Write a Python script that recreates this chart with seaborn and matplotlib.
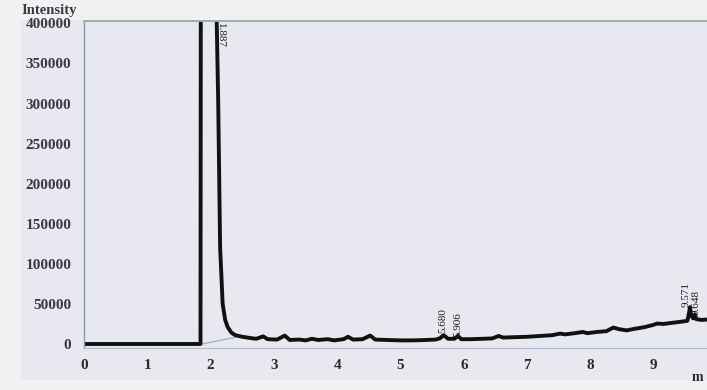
import matplotlib
matplotlib.use("Agg")
import matplotlib.pyplot as plt
from matplotlib.patches import Rectangle
from matplotlib.ticker import MultipleLocator
import numpy as np
import pandas as pd
import seaborn as sns

# Retention time (min) and detector intensity of the chromatogram trace
rt = [0.0, 1.84, 1.845, 1.887, 2.09, 2.12, 2.15, 2.19, 2.23, 2.27, 2.33, 2.39,
      2.50, 2.62, 2.72, 2.83, 2.90, 3.05, 3.17, 3.25, 3.40, 3.50, 3.60, 3.70,
      3.85, 3.95, 4.10, 4.17, 4.25, 4.40, 4.52, 4.60, 4.80, 5.00, 5.20, 5.40,
      5.55, 5.62, 5.68, 5.75, 5.85, 5.906, 5.96, 6.10, 6.30, 6.45, 6.55, 6.62,
      6.80, 7.00, 7.20, 7.40, 7.52, 7.60, 7.75, 7.88, 7.95, 8.10, 8.25, 8.36,
      8.45, 8.57, 8.70, 8.85, 9.00, 9.05, 9.15, 9.30, 9.45, 9.53, 9.555, 9.571,
      9.59, 9.62, 9.648, 9.67, 9.75, 9.84]
intensity = [0, 0, 430000, 900000, 430000, 300000, 120000, 50000, 30000, 21000, 14000, 11000,
             9000, 7500, 6500, 9500, 6000, 5500, 10500, 5000, 5500, 4500, 6500, 5000,
             6000, 4500, 6000, 9000, 5500, 6000, 10500, 5500, 5000, 4500, 4500, 5000,
             5500, 7000, 11000, 6500, 6500, 10000, 6000, 6000, 6500, 7000, 10000, 8000,
             8500, 9000, 10000, 11000, 13000, 12000, 13500, 15000, 13500, 15000, 16000, 20500,
             18500, 17000, 19000, 21000, 24000, 25500, 25000, 26500, 28000, 29000, 38000, 46000,
             36000, 32000, 37000, 31000, 30000, 30500]

# Integration baseline drawn under the main peak tail
base_rt = [1.87, 2.40]
base_int = [0, 8500]

# Peak annotations: label, x, y, rotation
peak_labels = ["1.887", "5.680", "5.906", "9.571", "9.648"]
peak_x = [2.15, 5.67, 5.91, 9.51, 9.665]
peak_y = [400000, 13500, 9000, 46000, 36000]
peak_rot = [-90, 90, 90, 90, 90]

y_ticks = [0, 50000, 100000, 150000, 200000, 250000, 300000, 350000, 400000]
x_ticks = [0, 1, 2, 3, 4, 5, 6, 7, 8, 9]

sns.set_style("white")
serif = ["Liberation Serif", "DejaVu Serif"]
plt.rcParams["font.family"] = serif

fig = plt.figure(figsize=(7.07, 3.90), dpi=100)
fig.patch.set_facecolor("#f1f1f4")
fig.patches.append(Rectangle((0.03, 0.025), 0.97, 0.925, transform=fig.transFigure,
                             facecolor="#e7e8f0", edgecolor="none", zorder=-10))

ax = fig.add_axes([84 / 707, 1 - 348 / 390, 1 - 84 / 707, 327 / 390])
ax.set_facecolor("#e7e8f0")

df = pd.DataFrame({"rt": rt, "intensity": intensity})
sns.lineplot(data=df, x="rt", y="intensity", sort=False, estimator=None,
             color="#111111", linewidth=2.8, ax=ax)
ax.plot(base_rt, base_int, color="#a9aab0", linewidth=0.9, zorder=1)

ax.set_xlim(0, 9.84)
ax.set_ylim(-5000, 403000)
ax.set_xlabel("")
ax.set_ylabel("")

ax.set_yticks(y_ticks)
ax.set_yticklabels([str(v) for v in y_ticks])
ax.yaxis.set_minor_locator(MultipleLocator(10000))
ax.set_xticks(x_ticks)
ax.xaxis.set_minor_locator(MultipleLocator(0.1))

tick_col = "#8e9ab0"
ax.tick_params(axis="y", which="major", direction="out", length=8, width=1.0,
               color="#c59a9e", pad=1, labelsize=11, labelcolor="#3a3a42")
ax.tick_params(axis="y", which="minor", direction="out", length=3.5, width=0.9, color=tick_col)
ax.tick_params(axis="x", which="major", direction="out", length=5, width=1.0,
               color=tick_col, pad=3, labelsize=11, labelcolor="#2a2a2e")
ax.tick_params(axis="x", which="minor", direction="out", length=3, width=0.9, color=tick_col)
for lab in ax.get_xticklabels() + ax.get_yticklabels():
    lab.set_fontweight("bold")

ax.spines["right"].set_visible(False)
ax.spines["top"].set_color("#9fb0a8")
ax.spines["top"].set_linewidth(1.4)
ax.spines["left"].set_color("#8d97a8")
ax.spines["left"].set_linewidth(1.0)
ax.spines["bottom"].set_color("#b4bccb")
ax.spines["bottom"].set_linewidth(0.8)

for lab, x, y, r in zip(peak_labels, peak_x, peak_y, peak_rot):
    va = "top" if r < 0 else "bottom"
    ax.text(x, y, lab, rotation=r, ha="center", va=va, fontsize=8,
            color="#1e1e22", clip_on=False)

fig.text(0.069, 0.972, "Intensity", ha="center", va="center", fontsize=10.5,
         fontweight="bold", color="#3a3a40")
fig.text(0.986, 0.033, "m", ha="center", va="center", fontsize=10,
         fontweight="bold", color="#2a2a2e")

fig.savefig("out.png", dpi=100, facecolor=fig.get_facecolor())
